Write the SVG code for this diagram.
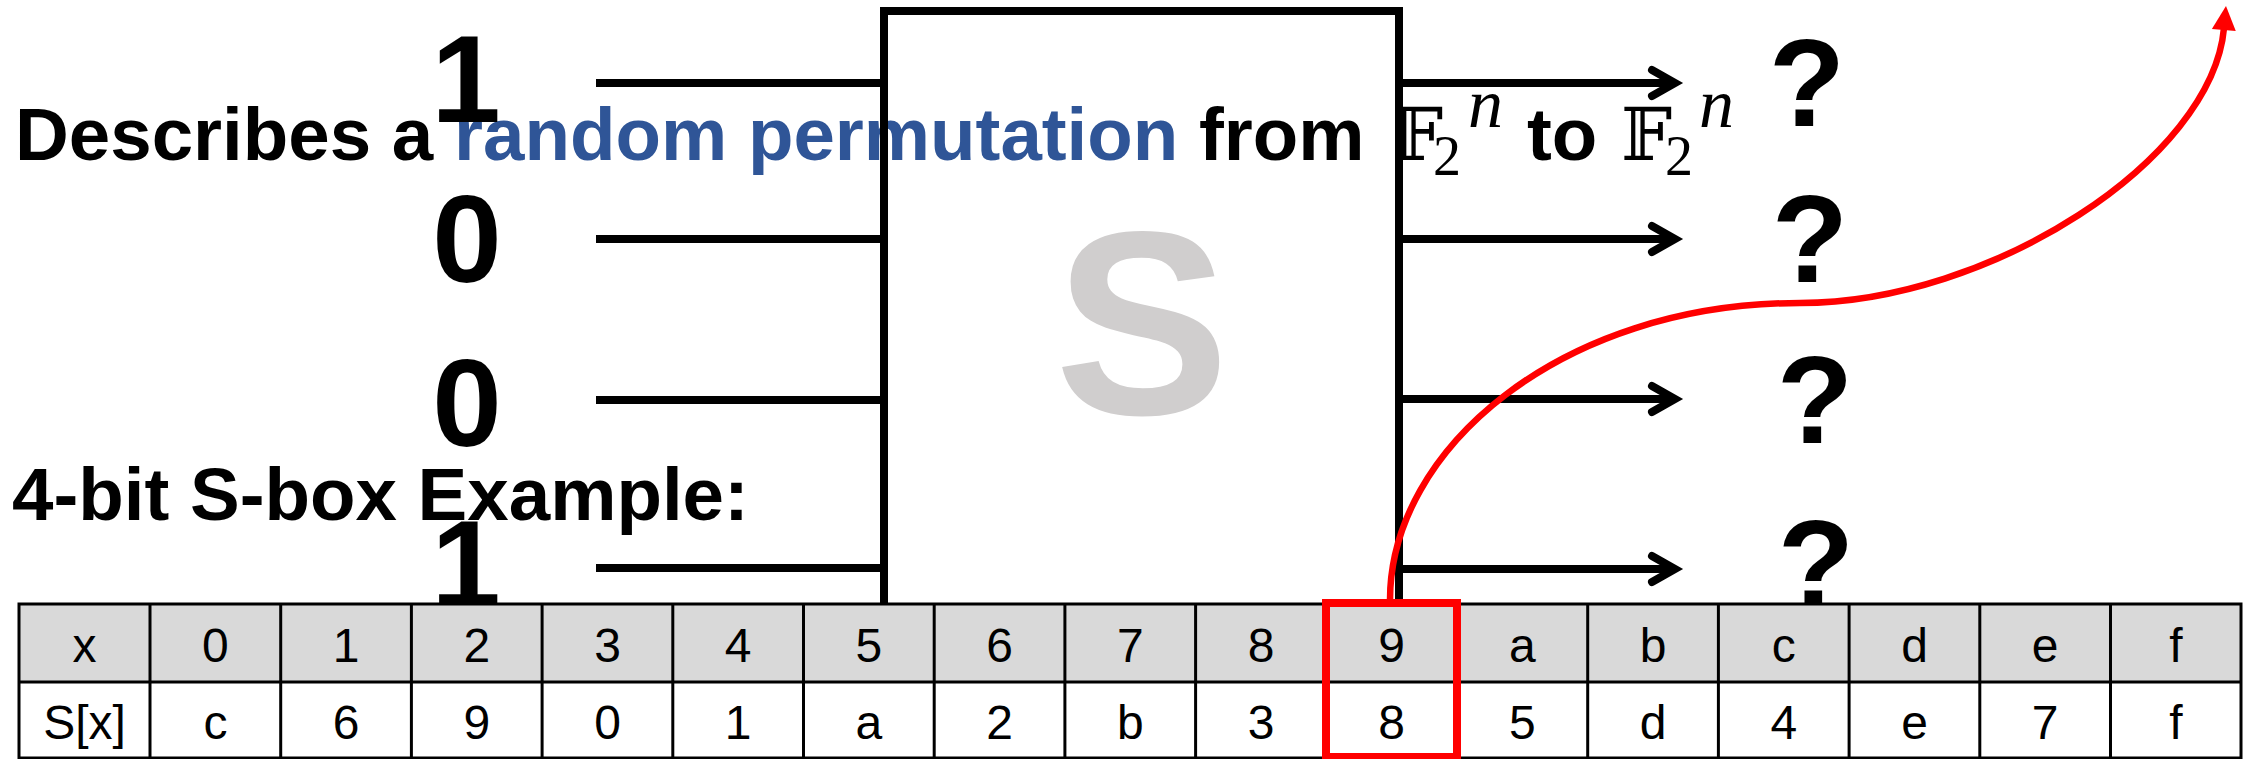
<svg xmlns="http://www.w3.org/2000/svg" width="2259" height="759" viewBox="0 0 2259 759">
  <style>
    .head { font-family: "Liberation Sans", Arial, sans-serif; font-weight: bold; font-size: 74.5px; fill: #000; }
    .accent { fill: #2F5597; }
    .dstruck { font-family: "DejaVu Serif", "DejaVu Sans", serif; font-size: 72px; fill: #000; }
    .sub { font-family: "Liberation Serif", "Times New Roman", serif; font-size: 56px; fill: #000; }
    .sup { font-family: "Liberation Serif", "Times New Roman", serif; font-style: italic; font-size: 70px; fill: #000; }
    .bit { font-family: "Liberation Sans", Arial, sans-serif; font-weight: bold; font-size: 125px; fill: #000; text-anchor: middle; }
    .wire { stroke: #000; stroke-width: 8; fill: none; }
    .cell { font-family: "Liberation Sans", Arial, sans-serif; font-size: 48px; fill: #000; text-anchor: middle; }
    .grid { stroke: #000; stroke-width: 3; fill: none; }
  </style>
  <defs>
    <marker id="chevron" markerUnits="userSpaceOnUse" viewBox="-30 -20 40 40" refX="0" refY="0" markerWidth="40" markerHeight="40" orient="auto" overflow="visible">
      <path d="M-23,-13 L0,0 L-23,13" fill="none" stroke="#000" stroke-width="8" stroke-linecap="round" stroke-linejoin="miter"/>
    </marker>
    <marker id="redhead" markerUnits="userSpaceOnUse" viewBox="0 0 24 24" refX="2" refY="12" markerWidth="24" markerHeight="24" orient="auto" overflow="visible">
      <path d="M0,0 L24,12 L0,24 z" fill="#FF0000"/>
    </marker>
  </defs>

  <rect width="2259" height="759" fill="#FFFFFF"/>

  <!-- headline -->
  <g id="title">
    <text class="head" x="15" y="160">Describes a <tspan class="accent">random permutation</tspan> from</text>
    <text class="dstruck" x="1392" y="160">𝔽</text>
    <text class="sub" x="1433" y="175">2</text>
    <text class="sup" x="1468" y="127">n</text>
    <text class="head" x="1527" y="160">to</text>
    <text class="dstruck" x="1621" y="160">𝔽</text>
    <text class="sub" x="1665" y="175">2</text>
    <text class="sup" x="1699" y="127">n</text>
  </g>

  <g id="example-label">
    <text class="head" x="12" y="520">4-bit S-box Example:</text>
  </g>

  <!-- the S-box itself -->
  <g id="sbox">
    <rect x="884" y="11" width="515" height="700" fill="none" stroke="#000" stroke-width="8"/>
    <text x="1142" y="414" font-family="Liberation Sans, Arial, sans-serif" font-weight="bold" font-size="262" fill="#D0CECE" text-anchor="middle">S</text>
  </g>

  <g id="input-bits">
    <text class="bit" x="466" y="122">1</text>
    <text class="bit" x="467" y="282">0</text>
    <text class="bit" x="467" y="446">0</text>
    <text class="bit" x="466" y="607">1</text>
  </g>

  <g id="output-bits">
    <text class="bit" x="1807" y="126">?</text>
    <text class="bit" x="1810" y="282">?</text>
    <text class="bit" x="1815" y="443">?</text>
    <text class="bit" x="1816" y="607">?</text>
  </g>

  <!-- lookup table -->
  <g id="table">
    <rect x="19" y="604" width="2222" height="78" fill="#D9D9D9"/>
    <rect x="19" y="682" width="2222" height="77" fill="#FFFFFF"/>
    <g class="grid">
      <rect x="19" y="604" width="2222" height="154"/>
      <line x1="19" y1="682" x2="2241" y2="682"/>
      <line x1="150" y1="604" x2="150" y2="759"/>
      <line x1="280.7" y1="604" x2="280.7" y2="759"/>
      <line x1="411.4" y1="604" x2="411.4" y2="759"/>
      <line x1="542.1" y1="604" x2="542.1" y2="759"/>
      <line x1="672.8" y1="604" x2="672.8" y2="759"/>
      <line x1="803.5" y1="604" x2="803.5" y2="759"/>
      <line x1="934.2" y1="604" x2="934.2" y2="759"/>
      <line x1="1064.9" y1="604" x2="1064.9" y2="759"/>
      <line x1="1195.6" y1="604" x2="1195.6" y2="759"/>
      <line x1="1326.3" y1="604" x2="1326.3" y2="759"/>
      <line x1="1457" y1="604" x2="1457" y2="759"/>
      <line x1="1587.7" y1="604" x2="1587.7" y2="759"/>
      <line x1="1718.4" y1="604" x2="1718.4" y2="759"/>
      <line x1="1849.1" y1="604" x2="1849.1" y2="759"/>
      <line x1="1979.8" y1="604" x2="1979.8" y2="759"/>
      <line x1="2110.5" y1="604" x2="2110.5" y2="759"/>
    </g>
    <g class="cell">
      <text x="84.5" y="662">x</text>
      <text x="215.4" y="662">0</text>
      <text x="346.1" y="662">1</text>
      <text x="476.8" y="662">2</text>
      <text x="607.5" y="662">3</text>
      <text x="738.2" y="662">4</text>
      <text x="868.9" y="662">5</text>
      <text x="999.6" y="662">6</text>
      <text x="1130.3" y="662">7</text>
      <text x="1261" y="662">8</text>
      <text x="1391.7" y="662">9</text>
      <text x="1522.4" y="662">a</text>
      <text x="1653.1" y="662">b</text>
      <text x="1783.8" y="662">c</text>
      <text x="1914.5" y="662">d</text>
      <text x="2045.2" y="662">e</text>
      <text x="2175.9" y="662">f</text>

      <text x="84.5" y="739">S[x]</text>
      <text x="215.4" y="739">c</text>
      <text x="346.1" y="739">6</text>
      <text x="476.8" y="739">9</text>
      <text x="607.5" y="739">0</text>
      <text x="738.2" y="739">1</text>
      <text x="868.9" y="739">a</text>
      <text x="999.6" y="739">2</text>
      <text x="1130.3" y="739">b</text>
      <text x="1261" y="739">3</text>
      <text x="1391.7" y="739">8</text>
      <text x="1522.4" y="739">5</text>
      <text x="1653.1" y="739">d</text>
      <text x="1783.8" y="739">4</text>
      <text x="1914.5" y="739">e</text>
      <text x="2045.2" y="739">7</text>
      <text x="2175.9" y="739">f</text>
    </g>
    <!-- highlighted column x = 9 -->
    <rect id="highlight" x="1326" y="603" width="131" height="154" fill="none" stroke="#FF0000" stroke-width="8"/>
  </g>

  <g id="connectors">
    <line class="wire" x1="596" y1="83" x2="884" y2="83"/>
    <line class="wire" x1="596" y1="239" x2="884" y2="239"/>
    <line class="wire" x1="596" y1="400" x2="884" y2="400"/>
    <line class="wire" x1="596" y1="568" x2="884" y2="568"/>

    <line class="wire" x1="1399" y1="83" x2="1675" y2="83" marker-end="url(#chevron)"/>
    <line class="wire" x1="1399" y1="239" x2="1675" y2="239" marker-end="url(#chevron)"/>
    <line class="wire" x1="1399" y1="399" x2="1675" y2="399" marker-end="url(#chevron)"/>
    <line class="wire" x1="1399" y1="569" x2="1675" y2="569" marker-end="url(#chevron)"/>

    <path d="M1390,600 C1390,450 1560,303 1800,303 C1990,303 2212,160 2224,28" fill="none" stroke="#FF0000" stroke-width="6.5" marker-end="url(#redhead)"/>
  </g>
</svg>
